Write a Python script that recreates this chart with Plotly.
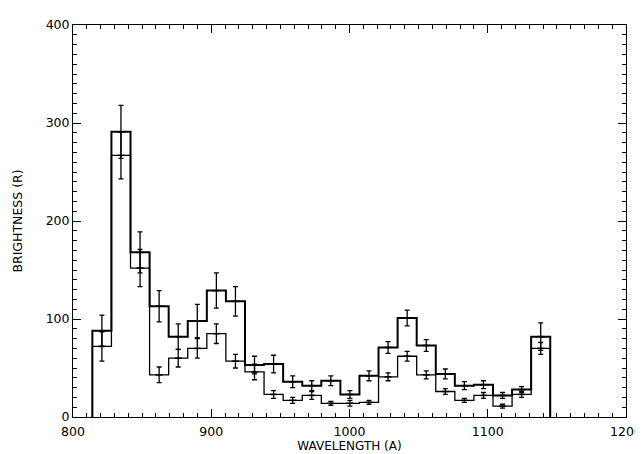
import plotly.graph_objects as go

# Bin edges (wavelength, Angstrom)
bin_edges = [814.0, 827.8, 841.6, 855.4, 869.2, 883.0, 896.8, 910.6, 924.4, 938.2,
             952.0, 965.8, 979.6, 993.4, 1007.2, 1021.0, 1034.8, 1048.6, 1062.4,
             1076.2, 1090.0, 1103.8, 1117.6, 1131.4, 1145.2]

# Series A (heavier line)
bright_a = [88, 291, 168, 113, 82, 98, 129, 118, 53, 54, 36, 32, 37, 23, 42, 71,
            101, 73, 44, 32, 33, 22, 28, 82]
err_a = [16, 27, 21, 16, 13, 17, 18, 15, 9, 9, 6, 5, 5, 4, 5, 6, 8, 6, 5, 4, 4, 3, 3, 14]

# Series B (lighter line)
bright_b = [72, 267, 152, 43, 60, 70, 85, 57, 46, 23, 17, 22, 14, 14, 15, 41,
            62, 43, 26, 17, 22, 11, 23, 70]
err_b = [15, 24, 19, 8, 9, 10, 10, 7, 8, 4, 3, 4, 2, 3, 2, 4, 5, 4, 3, 2, 3, 2, 3, 6]

x_ticks = [800, 900, 1000, 1100, 1200]
y_ticks = [0, 100, 200, 300, 400]

centers = [(bin_edges[i] + bin_edges[i + 1]) / 2 for i in range(len(bin_edges) - 1)]


def step_xy(vals):
    xs = [bin_edges[0]] + list(bin_edges[:-1]) + [bin_edges[-1], bin_edges[-1]]
    ys = [0] + list(vals) + [vals[-1], 0]
    return xs, ys


fig = go.Figure()
for vals, errs, lw in [(bright_b, err_b, 1.3), (bright_a, err_a, 2.0)]:
    xs, ys = step_xy(vals)
    fig.add_trace(go.Scatter(x=xs, y=ys, mode="lines", line=dict(color="black", width=lw, shape="hv"),
                             showlegend=False, hoverinfo="skip"))
    fig.add_trace(go.Scatter(x=centers, y=vals, mode="markers",
                             marker=dict(symbol="line-ew-open", size=5, color="black",
                                         line=dict(color="black", width=1.5)),
                             error_y=dict(type="data", array=errs, visible=True, color="black",
                                          thickness=1.3, width=2.5),
                             showlegend=False))

font = "DejaVu Sans, sans-serif"
axis_common = dict(showline=True, linecolor="black", linewidth=1, mirror="allticks",
                   ticks="inside", ticklen=8, tickwidth=1, tickcolor="black",
                   showgrid=False, zeroline=False,
                   tickfont=dict(family=font, size=12.5, color="black"),
                   minor=dict(ticks="inside", ticklen=4, tickwidth=1, tickcolor="black", dtick=10))

fig.update_xaxes(range=[800, 1200], tickvals=x_ticks, ticktext=[str(v) for v in x_ticks],
                 ticklabelstandoff=3,
                 title=dict(text="WAVELENGTH (A)", font=dict(family=font, size=12, color="black"), standoff=0),
                 **axis_common)
fig.update_yaxes(range=[0, 400], tickvals=y_ticks, ticktext=[str(v) for v in y_ticks],
                 title=dict(text="BRIGHTNESS (R)", font=dict(family=font, size=12.5, color="black"), standoff=20),
                 **axis_common)

fig.update_layout(width=643, height=454, margin=dict(l=65, r=16, t=9, b=45),
                  plot_bgcolor="white", paper_bgcolor="white", showlegend=False)

fig.write_html("out.html")
